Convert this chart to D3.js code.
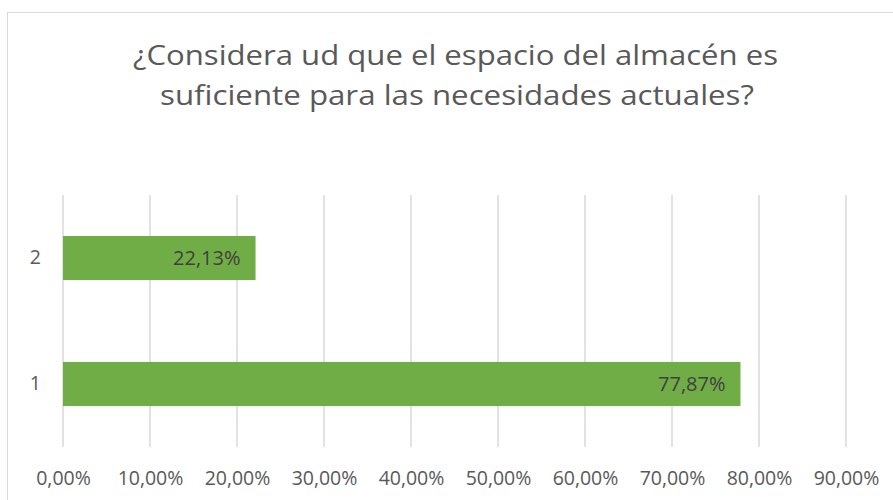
<!DOCTYPE html>
<html>
<head>
<meta charset="utf-8">
<script src="https://cdn.jsdelivr.net/npm/d3@7"></script>
<style>
  html, body { margin: 0; padding: 0; background: #fff; }
  svg { display: block; font-family: 'Open Sans', sans-serif; }
</style>
</head>
<body>
<div id="chart"></div>
<script>
// ── Data ──────────────────────────────────────────────────────────────────────
const titleLines = ['¿Considera ud que el espacio del almacén es', 'suficiente para las necesidades actuales?'];
const categories = ['2', '1'];            // top to bottom
const values = [0.2213, 0.7787];
const tickValues = [0, 0.1, 0.2, 0.3, 0.4, 0.5, 0.6, 0.7, 0.8, 0.9];

// ── Setup ─────────────────────────────────────────────────────────────────────
const W = 893, H = 500;
const svg = d3.select('#chart').append('svg')
  .attr('width', W)
  .attr('height', H);

// chart frame (runs off the right/bottom edge like the source)
svg.append('rect')
  .attr('x', 7.5).attr('y', 12.5)
  .attr('width', W + 20).attr('height', H + 20)
  .attr('fill', '#fff')
  .attr('stroke', '#d9d9d9')
  .attr('stroke-width', 1);

const locale = d3.formatLocale({ decimal: ',', thousands: '.', grouping: [3], currency: ['', '€'] });
const pct = locale.format('.2%');

const x = d3.scaleLinear().domain([0, 0.9]).range([63, 846]);
const y = d3.scaleBand().domain(categories).range([195, 447])
  .paddingInner(0.65).paddingOuter(0.325);

// ── Title ─────────────────────────────────────────────────────────────────────
const titleWidths = [645, 594];
svg.append('g').selectAll('text')
  .data(titleLines)
  .join('text')
  .attr('x', (d, i) => i ? 457 : 455.5)
  .attr('y', (d, i) => 65 + i * 40)
  .attr('text-anchor', 'middle')
  .attr('font-size', '28px')
  .attr('fill', '#595959')
  .attr('textLength', (d, i) => titleWidths[i])
  .attr('lengthAdjust', 'spacingAndGlyphs')
  .text(d => d);

// ── Gridlines ─────────────────────────────────────────────────────────────────
svg.append('g').selectAll('line')
  .data(tickValues)
  .join('line')
  .attr('x1', d => x(d)).attr('x2', d => x(d))
  .attr('y1', 195).attr('y2', 447)
  .attr('stroke', '#d9d9d9')
  .attr('stroke-width', 1.5);

// ── Axes ──────────────────────────────────────────────────────────────────────
const xAxis = svg.append('g')
  .attr('transform', 'translate(0,447)')
  .call(d3.axisBottom(x).tickValues(tickValues).tickFormat(pct).tickSize(0).tickPadding(24));
xAxis.select('.domain').remove();
xAxis.selectAll('text')
  .attr('font-family', "'Open Sans', sans-serif")
  .attr('font-size', '19.5px')
  .attr('fill', '#595959');

const yAxis = svg.append('g')
  .attr('transform', 'translate(63,0)')
  .call(d3.axisLeft(y).tickSize(0).tickPadding(22));
yAxis.select('.domain').remove();
yAxis.selectAll('text')
  .attr('font-family', "'Open Sans', sans-serif")
  .attr('font-size', '19.5px')
  .attr('fill', '#595959');

// ── Bars ──────────────────────────────────────────────────────────────────────
const bars = categories.map((c, i) => ({ cat: c, value: values[i] }));

svg.append('g').selectAll('rect')
  .data(bars)
  .join('rect')
  .attr('x', x(0))
  .attr('y', d => y(d.cat))
  .attr('width', d => x(d.value) - x(0))
  .attr('height', y.bandwidth())
  .attr('fill', '#70ad47');

svg.append('g').selectAll('text')
  .data(bars)
  .join('text')
  .attr('x', d => x(d.value) - 15)
  .attr('y', d => y(d.cat) + y.bandwidth() / 2 + 7)
  .attr('text-anchor', 'end')
  .attr('font-size', '20px')
  .attr('fill', '#404040')
  .text(d => pct(d.value));
</script>
</body>
</html>
